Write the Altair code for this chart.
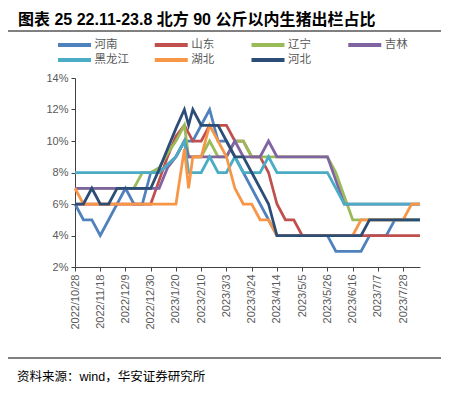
import altair as alt
import pandas as pd

# x positions in weeks since 2022/10/28 (one extra mid-week reading near the Spring Festival)
weeks = [0, 1, 2, 3, 4, 5, 6, 7, 8, 9, 10, 11, 12, 13, 13.5, 14, 15, 16, 17, 18, 19, 20,
         21, 22, 23, 24, 25, 26, 27, 28, 29, 30, 31, 32, 33, 34, 35, 36, 37, 38, 39, 40, 41]

tick_labels = ["2022/10/28", "2022/11/18", "2022/12/9", "2022/12/30", "2023/1/20",
               "2023/2/10", "2023/3/3", "2023/3/24", "2023/4/14", "2023/5/5",
               "2023/5/26", "2023/6/16", "2023/7/7", "2023/7/28"]
tick_weeks = [0, 3, 6, 9, 12, 15, 18, 21, 24, 27, 30, 33, 36, 39]

series_names = ["河南", "山东", "辽宁", "吉林", "黑龙江", "湖北", "河北"]
colors = ["#4F81BD", "#C0504D", "#9BBB59", "#8064A2", "#4BACC6", "#F79646", "#2C4D75"]

henan = [6, 5, 5, 4, 5, 6, 7, 6, 6, 8, 8, 8.5, 9, 10, 10, 10, 11, 12, 10, 10, 9, 8,
         7, 6, 5, 4, 4, 4, 4, 4, 4, 4, 3, 3, 3, 3, 4, 4, 4, 5, 5, 5, 5]
shandong = [6, 6, 6, 6, 6, 6, 6, 6, 6, 6, 7.5, 9, 10.3, 11, 10.5, 10, 10, 11, 11, 11, 10, 10,
            9, 9, 8, 6, 5, 5, 4, 4, 4, 4, 4, 4, 4, 4, 4, 4, 4, 4, 4, 4, 4]
liaoning = [7, 7, 7, 7, 7, 7, 7, 7, 8, 8, 8.3, 9.2, 10, 11, 9, 9, 9, 10, 9, 9, 10, 10,
            9, 9, 9, 9, 9, 9, 9, 9, 9, 9, 8, 6.5, 5, 5, 5, 5, 5, 5, 5, 5, 5]
jilin = [7, 7, 7, 7, 7, 7, 7, 7, 7, 7, 7, 8.3, 9, 10, 9, 9, 9, 9, 9, 9, 10, 9,
         9, 9, 10, 9, 9, 9, 9, 9, 9, 9, 7.5, 6, 6, 6, 6, 6, 6, 6, 6, 6, 6]
heilongjiang = [8, 8, 8, 8, 8, 8, 8, 8, 8, 8, 8, 8.5, 9, 10, 8, 8, 8, 9, 8, 8, 9, 8,
                8, 8, 9, 8, 8, 8, 8, 8, 8, 8, 7, 6, 6, 6, 6, 6, 6, 6, 6, 6, 6]
hubei = [7, 6, 6, 6, 6, 6, 6, 6, 6, 6, 6, 6, 6, 9.5, 7, 9, 9, 11, 10, 9, 7, 6,
         6, 5, 5, 4, 4, 4, 4, 4, 4, 4, 4, 4, 4, 5, 5, 5, 5, 5, 5, 6, 6]
hebei = [6, 6, 7, 6, 6, 7, 7, 7, 7, 7, 8.2, 9.5, 10.8, 12, 11, 12, 11, 11, 11, 10, 9, 9,
         8, 7, 6, 4, 4, 4, 4, 4, 4, 4, 4, 4, 4, 4, 5, 5, 5, 5, 5, 5, 5]

title_text = "图表  25 22.11-23.8 北方 90 公斤以内生猪出栏占比"
source_text = "资料来源：wind，华安证券研究所"

rows = []
for name, vals in zip(series_names, [henan, shandong, liaoning, jilin, heilongjiang, hubei, hebei]):
    for w, v in zip(weeks, vals):
        rows.append({"week": w, "value": v, "region": name})
df = pd.DataFrame(rows)

legend_df = pd.DataFrame({
    "region": series_names,
    "color": colors,
    "col": [i % 4 for i in range(len(series_names))],
    "row": [i // 4 for i in range(len(series_names))],
})

label_expr = "[" + ",".join("'" + t + "'" for t in tick_labels) + "][round(datum.value / 3)]"

lines = alt.Chart(df).mark_line(strokeWidth=2.75).encode(
    x=alt.X("week:Q",
            scale=alt.Scale(domain=[0, 41], nice=False, zero=False),
            axis=alt.Axis(values=tick_weeks, labelExpr=label_expr, labelAngle=-90,
                          title=None, grid=False, labelPadding=3)),
    y=alt.Y("value:Q",
            scale=alt.Scale(domain=[2, 14], nice=False, zero=False),
            axis=alt.Axis(values=[2, 4, 6, 8, 10, 12, 14], labelExpr="datum.value + '%'",
                          title=None, grid=False, labelPadding=3)),
    color=alt.Color("region:N", scale=alt.Scale(domain=series_names, range=colors), legend=None),
)

# legend grid: 4 columns x 2 rows above the plot
leg_x = alt.X("col:Q", scale=alt.Scale(domain=[0, 4], range=[-0.5, 386.5]), axis=None)
leg_y = alt.Y("row:Q", scale=alt.Scale(domain=[0, 1], range=[-33, -18]), axis=None)

legend_sym = alt.Chart(legend_df).mark_point(
    shape="M-1,0H1", size=1089, strokeWidth=4, filled=False, opacity=1
).encode(x=leg_x, y=leg_y, stroke=alt.Color("color:N", scale=None))

legend_txt = alt.Chart(legend_df).mark_text(
    align="left", baseline="middle", dx=20, fontSize=11.5,
    font="Noto Sans CJK SC", color="#595959"
).encode(x=leg_x, y=leg_y, text="region:N")

one = pd.DataFrame({"a": [0]})

title_mark = alt.Chart(pd.DataFrame({"t": [title_text]})).mark_text(
    align="left", baseline="middle", fontSize=16, fontWeight="bold",
    font="Liberation Sans, Noto Sans CJK SC", color="#000000"
).encode(text="t:N", x=alt.value(-57), y=alt.value(-58))

top_rule = alt.Chart(one).mark_rule(color="#000000", strokeWidth=1).encode(
    x=alt.value(-67), x2=alt.value(366), y=alt.value(-47))

bottom_rule = alt.Chart(one).mark_rule(color="#000000", strokeWidth=1).encode(
    x=alt.value(-67), x2=alt.value(366), y=alt.value(280))

source_mark = alt.Chart(pd.DataFrame({"t": [source_text]})).mark_text(
    align="left", baseline="middle", fontSize=12.5,
    font="Liberation Sans, Noto Sans CJK SC", color="#000000"
).encode(text="t:N", x=alt.value(-58), y=alt.value(299))

chart = alt.layer(lines, legend_sym, legend_txt, title_mark, top_rule, bottom_rule, source_mark).resolve_scale(
    x="independent", y="independent", color="independent"
).properties(
    width=345, height=189,
    padding={"left": 67, "top": 70, "right": 21, "bottom": 120},
    autosize=alt.AutoSizeParams(type="none"),
).configure_view(stroke=None).configure_axis(
    domainColor="#404040", tickColor="#404040", tickSize=4,
    labelColor="#595959", labelFont="Liberation Sans", labelFontSize=11,
)

chart.save("out.html", embed_options={"renderer": "svg", "actions": False})
